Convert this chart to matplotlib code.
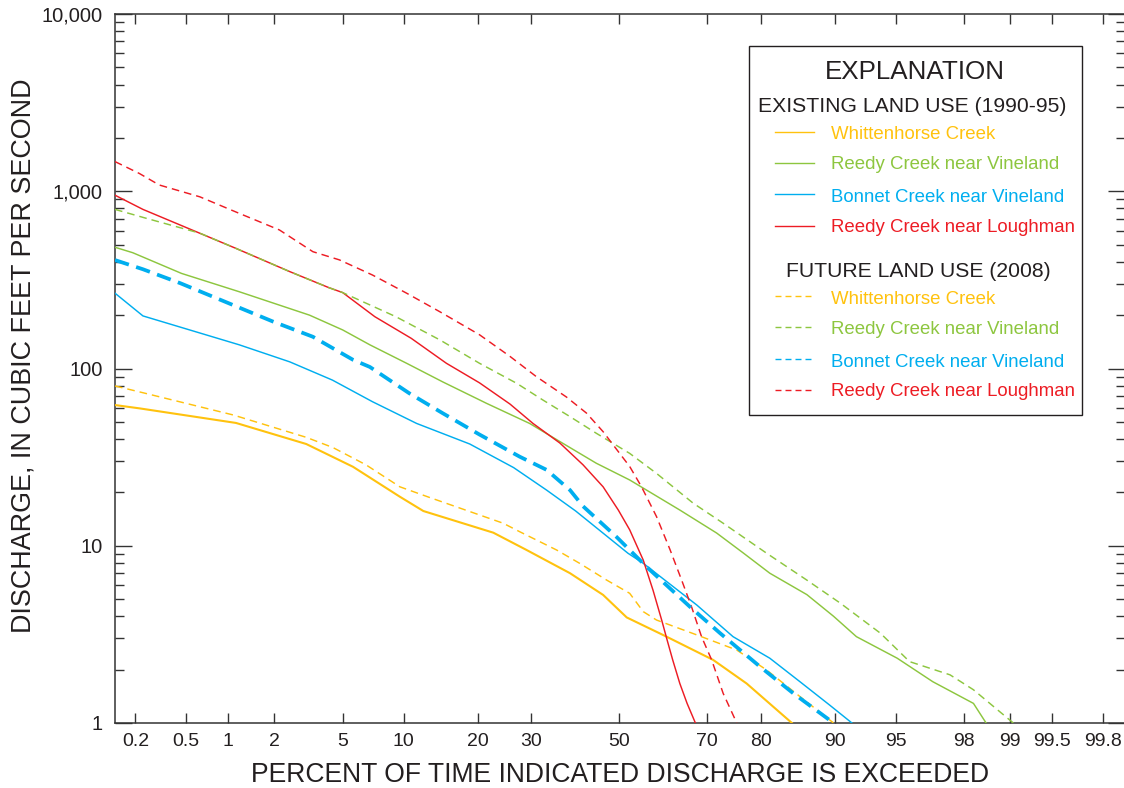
import numpy as np
import matplotlib
matplotlib.use("Agg")
import matplotlib.pyplot as plt
from matplotlib.ticker import FixedLocator, FixedFormatter, LogLocator, NullFormatter, NullLocator
from matplotlib.lines import Line2D
from matplotlib.patches import Rectangle
from statistics import NormalDist

plt.rcParams['font.family'] = ['Liberation Sans', 'DejaVu Sans']
plt.rcParams['lines.scale_dashes'] = False

# ---------------------------------------------------------------- data
# percent of time exceeded (p) and discharge in cfs (q)
whitt_exist_p = [0.135, 0.215, 1.13, 3.13, 5.66, 9.6, 12.2, 22.7, 29.1, 38.5, 46.2, 51.8, 61.1, 71.2, 77.6, 84.8]
whitt_exist_q = [62.2, 59.6, 49.3, 37.5, 27.9, 18.9, 15.7, 11.85, 9.46, 7.0, 5.28, 3.94, 3.07, 2.27, 1.67, 1.0]

vine_exist_p = [0.135, 0.19, 0.46, 1.19, 3.27, 5.0, 6.9, 10.3, 14.7, 21.5, 29.7, 36.9, 44.6, 52.5, 64.1,
                71.9, 77.0, 81.5, 86.8, 89.9, 92.1, 95.1, 96.9, 98.25, 98.55]
vine_exist_q = [483, 450, 344, 271, 200, 165, 136, 107, 84, 63.6, 49, 37.8, 29.2, 23.5, 15.9,
                11.8, 9.1, 7.0, 5.3, 4.0, 3.07, 2.32, 1.71, 1.29, 1.0]

bonnet_exist_p = [0.135, 0.23, 1.19, 2.5, 4.4, 7.1, 11.4, 18.7, 26.5, 33.3, 39.8, 52.1, 55.7, 67.8,
                  75.1, 81.5, 85.9, 89.5, 91.7]
bonnet_exist_q = [266, 198, 136, 109, 86, 65, 49, 37.5, 27.6, 20.6, 15.7, 9.07, 7.96, 4.63,
                  3.07, 2.32, 1.71, 1.26, 1.0]

lough_exist_p = [0.135, 0.23, 1.13, 2.5, 4.2, 5.0, 7.3, 10.8, 15.2, 20.3, 25.8, 30.4, 36.2, 41.5, 46.2,
                 49.8, 52.5, 55.7, 58.0, 60.0, 61.3, 62.5, 64.1, 65.7, 67.5]
lough_exist_q = [950, 790, 476, 352, 286, 268, 196, 148, 107, 83, 63, 49, 38, 28.6, 21.5,
                 15.9, 12.3, 8.3, 5.6, 3.8, 2.9, 2.27, 1.67, 1.29, 1.0]

whitt_future_p = [0.135, 0.23, 1.08, 3.13, 4.43, 6.6, 9.6, 13.0, 24.5, 27.7, 35.5, 40.7, 47.0, 52.5,
                  55.7, 58.8, 67.8, 75.8, 81.0, 85.9, 89.9]
whitt_future_q = [79.7, 73.0, 54.7, 40.9, 35.8, 28.6, 21.5, 18.7, 13.4, 12.0, 9.46, 7.96, 6.41, 5.39,
                  4.25, 3.81, 3.14, 2.58, 1.99, 1.41, 1.0]

vine_future_p = [0.135, 0.244, 0.63, 1.13, 2.5, 4.2, 5.0, 9.2, 14.3, 20.3, 27.1, 32.5, 38.5, 44.6, 52.5,
                 58.8, 67.0, 73.2, 81.0, 86.8, 90.6, 94.0, 95.8, 97.55, 98.25, 99.05]
vine_future_q = [790, 704, 580, 476, 352, 286, 268, 196, 145, 107, 82.5, 66.4, 53.5, 43.1, 33.2,
                 25.6, 17.4, 13.4, 9.07, 6.4, 4.74, 3.21, 2.22, 1.87, 1.54, 1.0]

bonnet_future_p = [0.135, 0.23, 0.45, 1.08, 1.97, 3.42, 5.66, 6.9, 10.6, 14.7, 20.3, 27.7, 33.3, 38.5,
                   41.5, 49.4, 56.5, 66.3, 72.6, 79.9, 85.0, 89.9]
bonnet_future_q = [409, 363, 303, 228, 184, 151, 112, 102, 72.4, 55.9, 42.4, 31.8, 26.8, 20.6,
                   16.7, 11.2, 7.6, 4.53, 3.21, 2.08, 1.47, 1.0]

lough_future_p = [0.135, 0.215, 0.31, 0.63, 1.19, 2.16, 3.42, 4.8, 7.1, 10.3, 14.3, 20.3, 25.8, 31.1,
                  37.7, 42.3, 46.2, 50.2, 52.5, 55.3, 58.8, 61.9, 64.5, 66.7, 68.8, 70.9, 73.2, 75.8]
lough_future_q = [1470, 1260, 1085, 930, 750, 605, 456, 410, 337, 266, 209, 155, 117, 90,
                  69, 56, 44, 33, 28, 21.5, 14.6, 9.5, 6.4, 4.5, 3.07, 2.27, 1.47, 1.0]

station_names = ["Whittenhorse Creek", "Reedy Creek near Vineland",
                 "Bonnet Creek near Vineland", "Reedy Creek near Loughman"]
station_colors = ["#FFC20E", "#8DC63F", "#00AEEF", "#ED1C24"]

x_tick_values = [0.2, 0.5, 1, 2, 5, 10, 20, 30, 50, 70, 80, 90, 95, 98, 99, 99.5, 99.8]
x_tick_labels = ["0.2", "0.5", "1", "2", "5", "10", "20", "30", "50", "70", "80", "90",
                 "95", "98", "99", "99.5", "99.8"]
y_tick_values = [1, 10, 100, 1000, 10000]
y_tick_labels = ["1", "10", "100", "1,000", "10,000"]

# ---------------------------------------------------------------- figure
W, H = 1124, 788
fig = plt.figure(figsize=(W / 100, H / 100), dpi=100)


def fx(px):
    return px / W


def fy(py):
    return 1 - py / H


# plot frame: z = -3 at the left edge, right edge runs just past the page
left_px, right_px = 115.0, 1125.0
px_per_z = 168.05
z_right = -3.0 + (right_px - left_px) / px_per_z
ax = fig.add_axes([fx(left_px), fy(723), (right_px - left_px) / W, (723 - 14) / H])

# normal-probability x scale
_nd = NormalDist()
_ppf = np.vectorize(_nd.inv_cdf, otypes=[float])
_cdf = np.vectorize(_nd.cdf, otypes=[float])


def to_z(p):
    p = np.asarray(p, dtype=float)
    return _ppf(np.clip(p / 100.0, 1e-12, 1 - 1e-12))


def from_z(z):
    return 100.0 * _cdf(np.asarray(z, dtype=float))


ax.set_xscale('function', functions=(to_z, from_z))
ax.set_yscale('log')
ax.set_xlim(_nd.cdf(-3.0) * 100, _nd.cdf(z_right) * 100)
ax.set_ylim(1, 10000)

thin = 1.05
dash_thin = (5.5, 3.6)

existing = [(whitt_exist_p, whitt_exist_q), (vine_exist_p, vine_exist_q),
            (bonnet_exist_p, bonnet_exist_q), (lough_exist_p, lough_exist_q)]
future = [(whitt_future_p, whitt_future_q), (vine_future_p, vine_future_q),
          (bonnet_future_p, bonnet_future_q), (lough_future_p, lough_future_q)]

for i, (p, q) in enumerate(existing):
    lw = 1.5 if i == 0 else thin
    ax.plot(p, q, color=station_colors[i], lw=lw, solid_joinstyle='round', zorder=3)

for i, (p, q) in enumerate(future):
    if i == 2:
        ax.plot(p, q, color=station_colors[i], lw=2.7, dashes=(10.5, 5.5),
                dash_capstyle='butt', zorder=4)
    else:
        ax.plot(p, q, color=station_colors[i], lw=thin, dashes=dash_thin, zorder=3)

# axes styling
spine_c = '#333333'
for s in ax.spines.values():
    s.set_color(spine_c)
    s.set_linewidth(1.1)

ax.xaxis.set_major_locator(FixedLocator(x_tick_values))
ax.xaxis.set_major_formatter(FixedFormatter(x_tick_labels))
ax.xaxis.set_minor_locator(NullLocator())
ax.yaxis.set_major_locator(FixedLocator(y_tick_values))
ax.yaxis.set_major_formatter(FixedFormatter(y_tick_labels))
ax.yaxis.set_minor_locator(LogLocator(base=10, subs=np.arange(2, 10)))
ax.yaxis.set_minor_formatter(NullFormatter())

ax.tick_params(axis='x', which='major', direction='in', top=True, length=7.5, width=1.0,
               color=spine_c, labelsize=14, pad=7, labelcolor='#231f20')
ax.tick_params(axis='y', which='major', direction='in', right=True, length=12, width=1.0,
               color=spine_c, labelsize=14.5, pad=9, labelcolor='#231f20')
ax.tick_params(axis='y', which='minor', direction='in', right=True, length=6.5, width=1.0,
               color=spine_c)

fig.text(fx(620), fy(782), "PERCENT OF TIME INDICATED DISCHARGE IS EXCEEDED",
         ha='center', va='baseline', fontsize=19.1, color='#231f20')
fig.text(fx(24), fy(356), "DISCHARGE, IN CUBIC FEET PER SECOND", rotation=90,
         ha='center', va='center', fontsize=19.4, color='#231f20')

# ---------------------------------------------------------------- explanation box
fig.add_artist(Rectangle((fx(749), fy(415)), (1082 - 749) / W, (415 - 46) / H,
                         transform=fig.transFigure, fill=False, edgecolor='#231f20', lw=1.0))
fig.text(fx(915), fy(79.3), "EXPLANATION", ha='center', va='baseline', fontsize=18.7, color='#231f20')
fig.text(fx(912), fy(111.7), "EXISTING LAND USE (1990-95)", ha='center', va='baseline',
         fontsize=15.2, color='#231f20')
fig.text(fx(918), fy(277.3), "FUTURE LAND USE (2008)", ha='center', va='baseline',
         fontsize=15.2, color='#231f20')

row_line_y_exist = [131.7, 163.3, 194.3, 225.7]
row_text_y_exist = [139.3, 169.3, 202.3, 232.3]
row_line_y_future = [295.7, 326.7, 359.0, 390.0]
row_text_y_future = [304.0, 333.5, 367.0, 396.5]

for i in range(4):
    for ly, ty, style in ((row_line_y_exist[i], row_text_y_exist[i], 'solid'),
                          (row_line_y_future[i], row_text_y_future[i], 'dash')):
        ln = Line2D([fx(775), fx(814)], [fy(ly), fy(ly)], transform=fig.transFigure,
                    color=station_colors[i], lw=1.0)
        if style == 'dash':
            ln.set_dashes((4.3, 2.9))
        fig.add_artist(ln)
        fig.text(fx(830.7), fy(ty), station_names[i], ha='left', va='baseline',
                 fontsize=13.4, color=station_colors[i])

fig.savefig("out.png", dpi=100)
